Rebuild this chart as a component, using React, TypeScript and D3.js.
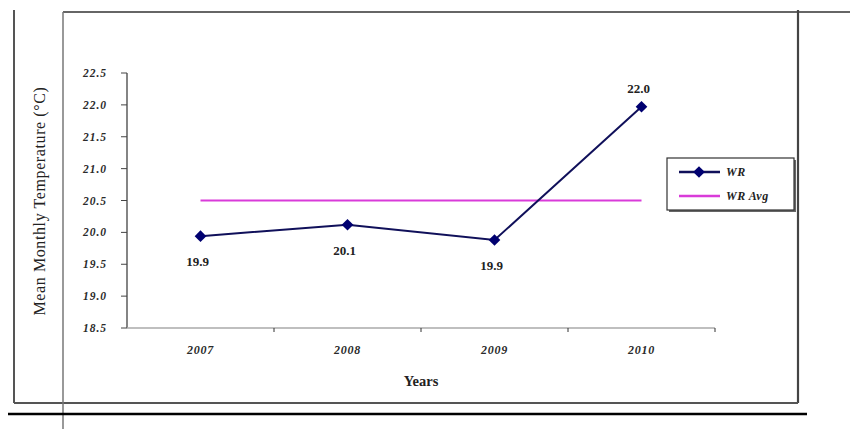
import * as d3 from "d3";

const years = ["2007", "2008", "2009", "2010"];
const wrValues = [19.94, 20.12, 19.88, 21.97];
const wrAvgValues = [20.5, 20.5, 20.5, 20.5];
const yTicks = [18.5, 19.0, 19.5, 20.0, 20.5, 21.0, 21.5, 22.0, 22.5];
const seriesNames = ["WR", "WR Avg"];

const W = 850;
const H = 429;
const FONT = "'Liberation Serif', 'Times New Roman', serif";
const NAVY = "#10105a";
const MAGENTA = "#d93bd9";

const App = () => {
  const x = d3.scaleBand().domain(years).range([127, 715]).padding(0);
  const y = d3.scaleLinear().domain([18.5, 22.5]).range([328, 73]);
  const cx = (d: string) => (x(d) as number) + x.bandwidth() / 2;

  const line = d3
    .line<number>()
    .x((_, i) => cx(years[i]))
    .y((d) => y(d));

  // fat diamond: a square turned 45 degrees
  const diamond = d3.symbol().type(d3.symbolSquare).size(68)();
  const fmt = d3.format(".1f");

  // boundaries between categories for x ticks
  const xTickPos = years.map((d) => (x(d) as number) + x.bandwidth());

  const lx = 667;
  const ly = 158;

  return (
    <svg
      width={W}
      height={H}
      style={{ position: "absolute", left: 0, top: 0, background: "#fff" }}
      fontFamily={FONT}
    >
      {/* outer frame */}
      <line x1={14} y1={10} x2={14} y2={403} stroke="#555" strokeWidth={2} />
      <line x1={63} y1={12} x2={850} y2={12} stroke="#666" strokeWidth={1.8} />
      <line x1={798} y1={10} x2={798} y2={403} stroke="#444" strokeWidth={2.2} />
      <line x1={14} y1={403} x2={798} y2={403} stroke="#555" strokeWidth={2} />
      <line x1={63} y1={12} x2={63} y2={429} stroke="#777" strokeWidth={1.5} />
      <line x1={8} y1={414} x2={807} y2={414} stroke="#000" strokeWidth={2.5} />

      {/* y axis */}
      <line x1={127} y1={y(22.5)} x2={127} y2={y(18.5)} stroke="#333" strokeWidth={1.2} />
      {yTicks.map((t) => (
        <g key={t}>
          <line x1={121} x2={127} y1={y(t)} y2={y(t)} stroke="#444" strokeWidth={1} />
          <text
            x={107}
            y={y(t)}
            dy="0.35em"
            textAnchor="end"
            fontSize={11.5}
            fontWeight="bold"
            fontStyle="italic"
            fill="#2a2a2a"
            letterSpacing="1"
          >
            {fmt(t)}
          </text>
        </g>
      ))}

      {/* x axis */}
      <line x1={127} y1={y(18.5)} x2={715} y2={y(18.5)} stroke="#aaa" strokeWidth={1.5} />
      {xTickPos.map((p, i) => (
        <line key={i} x1={p} x2={p} y1={y(18.5)} y2={y(18.5) + 4} stroke="#333" strokeWidth={1} />
      ))}
      {years.map((d) => (
        <text
          key={d}
          x={cx(d)}
          y={354}
          textAnchor="middle"
          fontSize={12}
          fontWeight="bold"
          fontStyle="italic"
          fill="#2a2a2a"
          letterSpacing="0.8"
        >
          {d}
        </text>
      ))}

      {/* axis titles */}
      <text x={421} y={386} textAnchor="middle" fontSize={14.5} fontWeight="bold" fill="#222">
        Years
      </text>
      <text
        transform="translate(45,201) rotate(-90)"
        textAnchor="middle"
        fontSize={16}
        fill="#222"
        letterSpacing="0.6"
      >
        Mean Monthly Temperature (°C)
      </text>

      {/* average line */}
      <path d={line(wrAvgValues) as string} fill="none" stroke={MAGENTA} strokeWidth={2.2} />

      {/* WR series */}
      <path d={line(wrValues) as string} fill="none" stroke={NAVY} strokeWidth={2} />
      {wrValues.map((v, i) => (
        <path
          key={i}
          d={diamond as string}
          transform={`translate(${cx(years[i])},${y(v)}) rotate(45)`}
          fill="#000070"
        />
      ))}
      {wrValues.map((v, i) => {
        const above = i === wrValues.length - 1;
        return (
          <text
            key={i}
            x={cx(years[i]) - 3}
            y={above ? y(v) - 14 : y(v) + 30}
            textAnchor="middle"
            fontSize={13}
            fontWeight="bold"
            fill="#222"
          >
            {fmt(v)}
          </text>
        );
      })}

      {/* legend */}
      <rect x={lx + 2} y={ly + 2} width={127} height={52} fill="#666" />
      <rect x={lx} y={ly} width={127} height={52} fill="#fff" stroke="#333" strokeWidth={1.2} />
      {seriesNames.map((s, i) => {
        const yy = ly + 14 + i * 24;
        return (
          <g key={s}>
            <line
              x1={lx + 12}
              x2={lx + 53}
              y1={yy}
              y2={yy}
              stroke={i === 0 ? NAVY : MAGENTA}
              strokeWidth={2.4}
            />
            {i === 0 && (
              <path
                d={diamond as string}
                transform={`translate(${lx + 32},${yy}) rotate(45)`}
                fill="#000070"
              />
            )}
            <text
              x={lx + 59}
              y={yy}
              dy="0.35em"
              fontSize={12}
              fontWeight="bold"
              fontStyle="italic"
              fill="#222"
              letterSpacing="0.5"
            >
              {s}
            </text>
          </g>
        );
      })}
    </svg>
  );
};

export default App;
